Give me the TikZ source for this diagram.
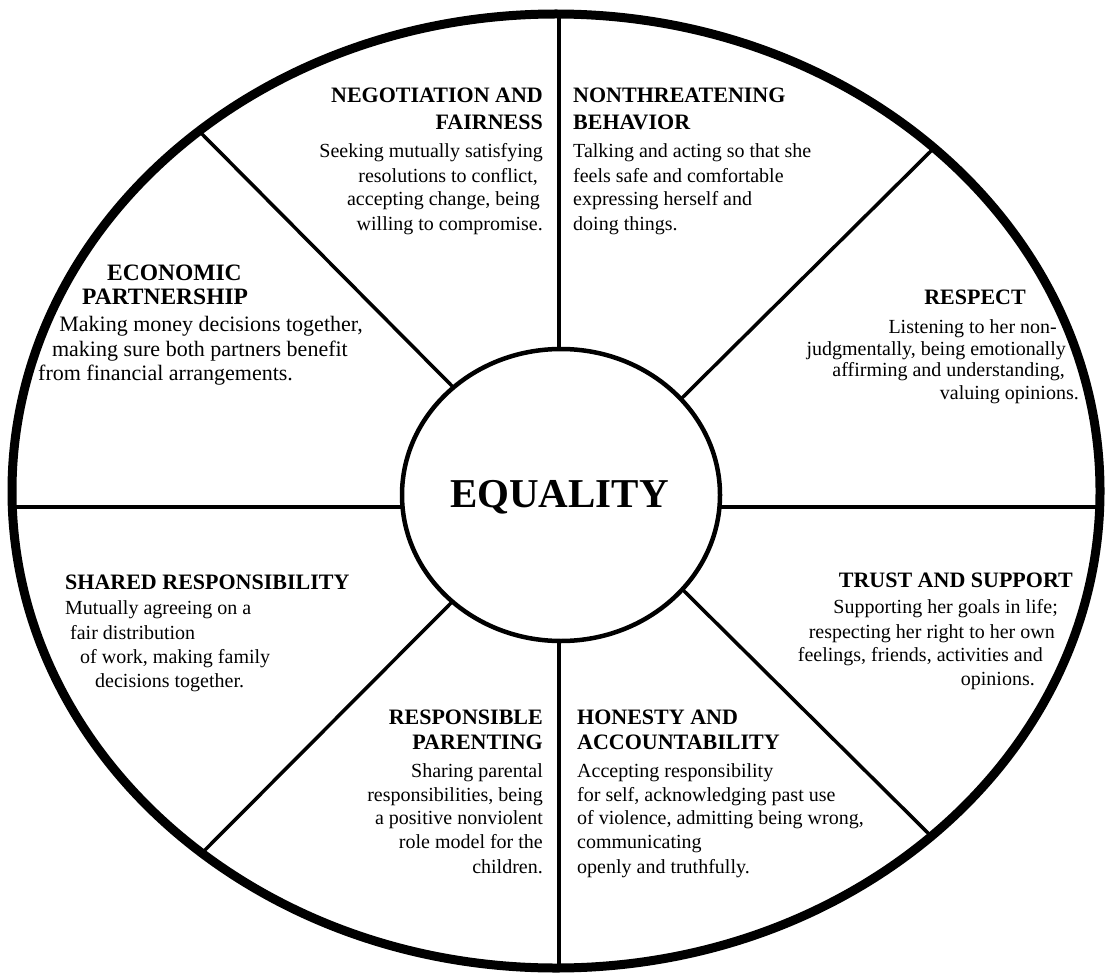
\documentclass[tikz,border=0pt]{standalone}
\usepackage{fontspec}
\setmainfont{Liberation Serif}
\usetikzlibrary{shapes.geometric}
\tikzset{
  hd/.style={font=\fontsize{22}{26}\selectfont\bfseries, inner sep=0pt},
  bd/.style={font=\fontsize{20}{24}\selectfont, inner sep=0pt},
  hdbig/.style={font=\fontsize{23.5}{28}\selectfont\bfseries, inner sep=0pt},
  bdbig/.style={font=\fontsize{22}{26}\selectfont, inner sep=0pt},
  spoke/.style={line width=3.5pt},
  rim/.style={draw, ellipse, line width=9pt, inner sep=0pt, outer sep=0pt},
  hub/.style={draw, ellipse, line width=4.5pt, inner sep=0pt, outer sep=0pt, fill=white}
}
\begin{document}
\begin{tikzpicture}[x=1pt,y=-1pt]
\useasboundingbox (0,0) rectangle (1105,976);
% spoke end points
\coordinate (oT) at (559,14);   \coordinate (iT) at (559,349);
\coordinate (oB) at (559,968);  \coordinate (iB) at (559,641);
\coordinate (oL) at (12,507);   \coordinate (iL) at (402.5,507);
\coordinate (oR) at (1100,507); \coordinate (iR) at (719.5,507);
\coordinate (oUL) at (200,132); \coordinate (iUL) at (453,387);
\coordinate (oUR) at (934,148); \coordinate (iUR) at (682,398);
\coordinate (oLL) at (202,853); \coordinate (iLL) at (452,602);
\coordinate (oLR) at (931,836); \coordinate (iLR) at (683,590);
\foreach \a in {T,B,L,R,UL,UR,LL,LR} \draw[spoke] (o\a) -- (i\a);
% wheel
\node[rim, minimum width=1088pt, minimum height=954pt] (wheel) at (556,491) {};
% hub
\node[hub, minimum width=318pt, minimum height=292pt] (hub) at (561,495) {};
\node[font=\fontsize{41}{48}\selectfont\bfseries, inner sep=0pt, anchor=base] (eq) at (559.5,507) {EQUALITY};

% NEGOTIATION AND FAIRNESS (right aligned)
\node[hd, anchor=base east] (n1) at (543,103) {NEGOTIATION AND};
\node[hd, anchor=base east] (n2) at (543,130) {FAIRNESS};
\node[bd, anchor=base east] (n3) at (543,158) {Seeking mutually satisfying};
\node[bd, anchor=base east] (n4) at (538,183) {resolutions to conflict,};
\node[bd, anchor=base east] (n5) at (540,206) {accepting change, being};
\node[bd, anchor=base east] (n6) at (543,231) {willing to compromise.};

% NONTHREATENING BEHAVIOR
\node[hd, anchor=base west] (t1) at (573,103) {NONTHREATENING};
\node[hd, anchor=base west] (t2) at (573,130) {BEHAVIOR};
\node[bd, anchor=base west] (t3) at (573,158) {Talking and acting so that she};
\node[bd, anchor=base west] (t4) at (573,183) {feels safe and comfortable};
\node[bd, anchor=base west] (t5) at (573,206) {expressing herself and};
\node[bd, anchor=base west] (t6) at (573,231) {doing things.};

% ECONOMIC PARTNERSHIP
\node[hdbig, anchor=base west] (e1) at (107,280) {ECONOMIC};
\node[hdbig, anchor=base west] (e2) at (82,305) {PARTNERSHIP};
\node[bdbig, anchor=base east] (e3) at (363,331) {Making money decisions together,};
\node[bdbig, anchor=base east] (e4) at (348,356) {making sure both partners benefit};
\node[bdbig, anchor=base west] (e5) at (38,380) {from financial arrangements.};

% RESPECT
\node[hd, anchor=base east] (r1) at (1026,305) {RESPECT};
\node[bd, anchor=base east] (r2) at (1057,333) {Listening to her non-};
\node[bd, anchor=base east] (r3) at (1066,355) {judgmentally, being emotionally};
\node[bd, anchor=base east] (r4) at (1065,376) {affirming and understanding,};
\node[bd, anchor=base east] (r5) at (1079,399) {valuing opinions.};

% SHARED RESPONSIBILITY
\node[hd, anchor=base west] (s1) at (65,589) {SHARED RESPONSIBILITY};
\node[bd, anchor=base west] (s2) at (65,614) {Mutually agreeing on a};
\node[bd, anchor=base west] (s3) at (70,639) {fair distribution};
\node[bd, anchor=base west] (s4) at (80,663) {of work, making family};
\node[bd, anchor=base west] (s5) at (95,687) {decisions together.};

% TRUST AND SUPPORT
\node[hd, anchor=base east] (u1) at (1073,587) {TRUST AND SUPPORT};
\node[bd, anchor=base east] (u2) at (1058,613) {Supporting her goals in life;};
\node[bd, anchor=base east] (u3) at (1055,638) {respecting her right to her own};
\node[bd, anchor=base east] (u4) at (1043,661) {feelings, friends, activities and};
\node[bd, anchor=base east] (u5) at (1035,685) {opinions.};

% RESPONSIBLE PARENTING
\node[hd, anchor=base east] (p1) at (543,724) {RESPONSIBLE};
\node[hd, anchor=base east] (p2) at (543,749) {PARENTING};
\node[bd, anchor=base east] (p3) at (543,777) {Sharing parental};
\node[bd, anchor=base east] (p4) at (543,801) {responsibilities, being};
\node[bd, anchor=base east] (p5) at (543,824) {a positive nonviolent};
\node[bd, anchor=base east] (p6) at (543,848) {role model for the};
\node[bd, anchor=base east] (p7) at (543,873) {children.};

% HONESTY AND ACCOUNTABILITY
\node[hd, anchor=base west] (h1) at (577,724) {HONESTY AND};
\node[hd, anchor=base west] (h2) at (577,749) {ACCOUNTABILITY};
\node[bd, anchor=base west] (h3) at (577,777) {Accepting responsibility};
\node[bd, anchor=base west] (h4) at (577,801) {for self, acknowledging past use};
\node[bd, anchor=base west] (h5) at (577,824) {of violence, admitting being wrong,};
\node[bd, anchor=base west] (h6) at (577,848) {communicating};
\node[bd, anchor=base west] (h7) at (577,873) {openly and truthfully.};
\end{tikzpicture}
\end{document}
